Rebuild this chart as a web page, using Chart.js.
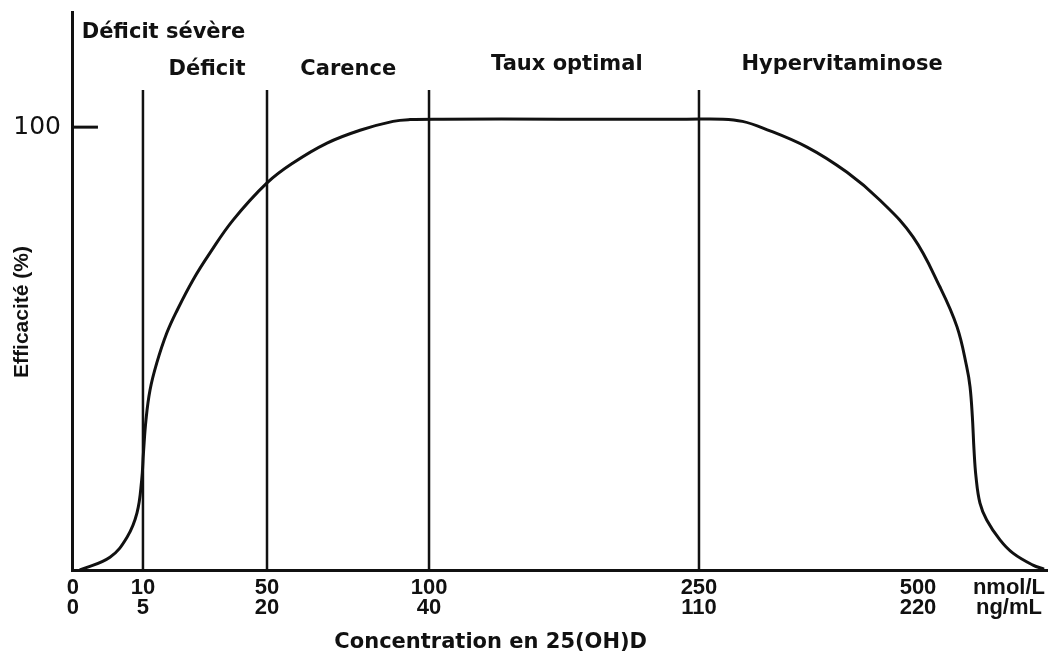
<!DOCTYPE html>
<html>
<head>
<meta charset="utf-8">
<script src="https://cdn.jsdelivr.net/npm/chart.js@4"></script>
<style>
    html, body { margin: 0; padding: 0; background: #fff; }
    #wrap { width: 1048px; height: 657px; }
</style>
</head>
<body>
<div id="wrap"><canvas id="myChart"></canvas></div>
<script>

// x axis is not linear in concentration: positions are 0-100 across the plot
let tickPos = [0.1, 7.27, 19.98, 36.58, 64.24, 86.68, 96.0];
let tickNmol = ["0", "10", "50", "100", "250", "500", "nmol/L"];
let tickNg = ["0", "5", "20", "40", "110", "220", "ng/mL"];

let yTicks = [100];

// zone boundaries (10, 50, 100, 250 nmol/L)
let zoneLines = [7.27, 19.98, 36.58, 64.24];
let zoneTop = 108.4;

let zoneNames = ["Déficit sévère", "Déficit", "Carence", "Taux optimal", "Hypervitaminose"];
let zoneX = [9.37, 13.83, 28.3, 50.7, 78.9];
let zoneY = [121.4, 112.9, 112.9, 114.2, 114.2];

// efficacy curve
let curveX = [0.8, 3.89, 5.64, 6.66, 7.14, 7.32, 7.58, 7.99, 8.68, 9.71, 10.76, 12.40, 14.14, 16.50,
    19.98, 22.64, 26.13, 29.51, 32.89, 34.63, 38.0, 50.0, 63.0, 66.70, 68.70, 70.80, 75.31, 79.41, 82.79,
    86.17, 88.93, 90.68, 91.67, 92.01, 92.25, 92.42, 92.62, 93.03, 93.72, 95.08, 96.41, 98.46, 99.6];
let curveY = [0, 2.9, 7.4, 12.9, 20.3, 26.4, 33.9, 40.6, 46.7, 53.5, 58.6, 65.5, 71.6, 79.0,
    87.4, 91.9, 96.4, 99.3, 101.3, 101.7, 101.8, 101.8, 101.8, 101.8, 101.3, 99.8, 95.5, 89.8, 83.5,
    75.2, 63.9, 54.9, 45.9, 41.4, 34.6, 27.1, 21.1, 15.1, 11.3, 6.8, 3.8, 1.1, 0.2];

let yTitle = "Efficacité (%)";
let xTitle = "Concentration en 25(OH)D";

let ink = "#111";

let datasets = [];

datasets.push({
    data: curveX.map((x, i) => ({ x: x, y: curveY[i] })),
    borderColor: ink,
    borderWidth: 3,
    pointRadius: 0,
    tension: 0.4
});

zoneLines.forEach(x => {
    datasets.push({
        data: [{ x: x, y: 0 }, { x: x, y: zoneTop }],
        borderColor: ink,
        borderWidth: 2.5,
        pointRadius: 0
    });
});

// small tick mark at 100, inside the plot
datasets.push({
    data: [{ x: 0, y: 100 }, { x: 2.66, y: 100 }],
    borderColor: ink,
    borderWidth: 3,
    pointRadius: 0
});

/* text drawn on top: zone names and axis titles */
let textPlugin = {
    id: "texts",
    afterDatasetsDraw(chart) {
        let ctx = chart.ctx;
        let xs = chart.scales.x;
        let ys = chart.scales.y;
        ctx.save();
        ctx.fillStyle = ink;
        ctx.textAlign = "center";
        ctx.textBaseline = "middle";
        ctx.font = "bold 21px 'DejaVu Sans'";
        zoneNames.forEach((name, i) => {
            ctx.fillText(name, xs.getPixelForValue(zoneX[i]), ys.getPixelForValue(zoneY[i]));
        });

        ctx.fillText(xTitle, xs.getPixelForValue(42.9), 643);

        ctx.translate(22, 312);
        ctx.rotate(-Math.PI / 2);
        ctx.font = "bold 21px 'Liberation Sans'";
        ctx.fillText(yTitle, 0, 0);
        ctx.restore();
    }
};

let chart = new Chart(document.getElementById("myChart").getContext("2d"), {
    type: "line",
    data: { datasets: datasets },
    options: {
        responsive: true,
        maintainAspectRatio: false,
        animation: false,
        layout: {
            padding: { top: 12, right: 0, left: 0, bottom: 0 }
        },
        plugins: {
            legend: { display: false },
            tooltip: { enabled: false }
        },
        scales: {
            x: {
                type: "linear",
                min: 0,
                max: 100,
                grid: { display: false, drawTicks: false },
                border: { color: ink, width: 3 },
                afterBuildTicks: s => { s.ticks = tickPos.map(v => ({ value: v })); },
                afterFit: s => { s.height = 87; s.paddingLeft = 0; s.paddingRight = 0; },
                ticks: {
                    autoSkip: false,
                    maxRotation: 0,
                    padding: 7,
                    color: ink,
                    font: { family: "'Liberation Sans'", size: 22, weight: "bold", lineHeight: 0.95 },
                    callback: (v, i) => [tickNmol[i], tickNg[i]]
                }
            },
            y: {
                min: 0,
                max: 126,
                grid: { display: false, drawTicks: false },
                border: { color: ink, width: 3 },
                afterBuildTicks: s => { s.ticks = yTicks.map(v => ({ value: v })); },
                afterFit: s => { s.width = 72; s.paddingTop = 0; s.paddingBottom = 0; },
                ticks: {
                    padding: 11,
                    color: ink,
                    font: { family: "'DejaVu Sans'", size: 25 }
                }
            }
        }
    },
    plugins: [textPlugin]
});

</script>
</body>
</html>
